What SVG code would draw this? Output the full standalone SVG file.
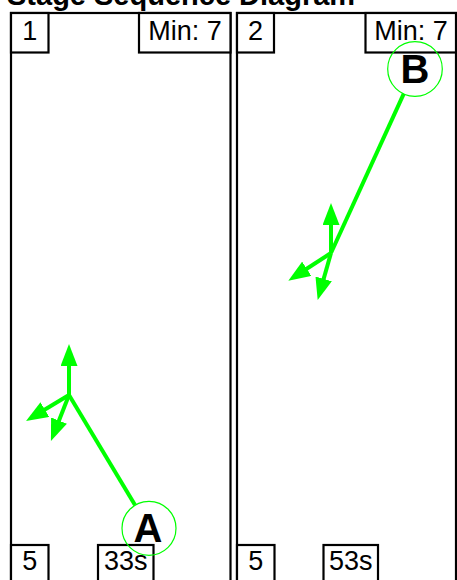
<svg xmlns="http://www.w3.org/2000/svg" width="457" height="580" viewBox="0 0 457 580">
<style>
.frame{fill:none;stroke:#000;stroke-width:2.2}
.box{fill:#fff;stroke:#000;stroke-width:2.2}
.lbl{font-family:"Liberation Sans",Arial,sans-serif;font-size:27px;fill:#000;text-anchor:middle}
.title{font-family:"Liberation Sans",Arial,sans-serif;font-size:29px;font-weight:bold;fill:#000}
.ring{fill:none;stroke:#00ff00;stroke-width:1.2}
.letter{font-family:"Liberation Sans",Arial,sans-serif;font-size:40px;font-weight:bold;fill:#000;text-anchor:middle}
.path{stroke:#00ff00;stroke-width:4;fill:none}
.arr{stroke:#00ff00;stroke-width:4;fill:none;marker-end:url(#head)}
</style>
<defs>
<marker id="head" markerUnits="userSpaceOnUse" viewBox="0 0 22 17" markerWidth="22" markerHeight="17" refX="12" refY="8.5" orient="auto">
<path d="M0,0 L22,8.5 L0,17 z" fill="#00ff00"/>
</marker>
</defs>
<rect width="457" height="580" fill="#fff"/>
<text class="title" x="7" y="5">Stage Sequence Diagram</text>

<g id="panel1">
<rect class="frame" x="11" y="13" width="219.5" height="620"/>
<g id="p1-stage"><rect class="box" x="11" y="13" width="37.5" height="39.5"/><text class="lbl" x="29.7" y="39.5">1</text></g>
<g id="p1-min"><rect class="box" x="139" y="13" width="91.5" height="39.5"/><text class="lbl" x="185" y="39.5">Min: 7</text></g>
<g id="p1-count"><rect class="box" x="11" y="545" width="37.5" height="60"/><text class="lbl" x="29.7" y="570">5</text></g>
<g id="p1-time"><rect class="box" x="98" y="545" width="55.5" height="60"/><text class="lbl" x="125.7" y="570">33s</text></g>
</g>

<g id="panel2">
<rect class="frame" x="237" y="13" width="219" height="620"/>
<g id="p2-stage"><rect class="box" x="237" y="13" width="37" height="39.5"/><text class="lbl" x="255.5" y="39.5">2</text></g>
<g id="p2-min"><rect class="box" x="365.5" y="13" width="90.5" height="39.5"/><text class="lbl" x="411" y="39.5">Min: 7</text></g>
<g id="p2-count"><rect class="box" x="237" y="545" width="37.5" height="60"/><text class="lbl" x="255.7" y="570">5</text></g>
<g id="p2-time"><rect class="box" x="323.5" y="545" width="54.5" height="60"/><text class="lbl" x="350.7" y="570">53s</text></g>
</g>

<g id="connectors">
<line class="path" x1="135" y1="505" x2="69" y2="395"/>
<line class="arr" x1="69" y1="395" x2="69" y2="354"/>
<line class="arr" x1="69" y1="395" x2="34.6" y2="415.8"/>
<line class="arr" x1="69" y1="395" x2="54.6" y2="431.7"/>
<line class="path" x1="403.8" y1="93.6" x2="331" y2="253"/>
<line class="arr" x1="331" y1="253" x2="331" y2="213"/>
<line class="arr" x1="331" y1="253" x2="296.7" y2="275.3"/>
<line class="arr" x1="331" y1="253" x2="320.4" y2="290.4"/>
</g>

<g id="nodeA">
<circle class="ring" cx="149" cy="528.3" r="27"/>
<text class="letter" x="148" y="542">A</text>
</g>
<g id="nodeB">
<circle class="ring" cx="415" cy="69" r="27.3"/>
<text class="letter" x="415" y="82.5">B</text>
</g>
</svg>
